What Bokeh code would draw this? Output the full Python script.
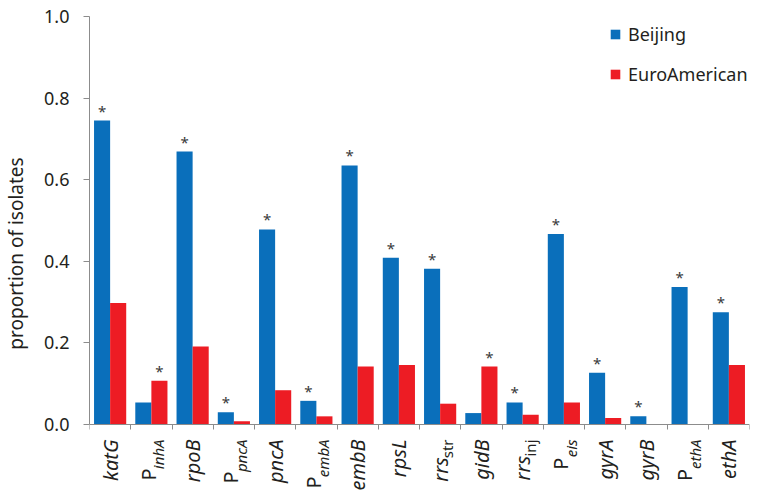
import numpy as np
from bokeh.plotting import figure
from bokeh.models import (Label, Legend, LegendItem, FixedTicker, Range1d,
                          ColumnDataSource, PrintfTickFormatter)
from bokeh.core.properties import value
from bokeh.embed import file_html
from bokeh.resources import INLINE

# ---- data ----
label_main = ["katG", "P", "rpoB", "P", "pncA", "P", "embB", "rpsL",
              "rrs", "gidB", "rrs", "P", "gyrA", "gyrB", "P", "ethA"]
label_sub = ["", "inhA", "", "pncA", "", "embA", "", "",
             "str", "", "inj", "eis", "", "", "ethA", ""]
beijing = [0.745, 0.054, 0.669, 0.030, 0.478, 0.058, 0.635, 0.409,
           0.382, 0.028, 0.054, 0.467, 0.127, 0.020, 0.337, 0.275]
euroamerican = [0.298, 0.107, 0.191, 0.008, 0.084, 0.020, 0.142, 0.146,
                0.051, 0.142, 0.024, 0.054, 0.016, 0.000, 0.000, 0.146]
significant_in = ["B", "E", "B", "B", "B", "B", "B", "B",
                  "B", "E", "B", "B", "B", "B", "B", "B"]
y_ticks = [0.0, 0.2, 0.4, 0.6, 0.8, 1.0]

BLUE = "#0a6fbb"
RED = "#ed1c24"
TXT = "#231f20"
AX = "#8c8c8c"
FONT = "Noto Sans"

n = len(label_main)
idx = np.arange(n)
bw = 0.39

H = 490
TOP = 16
PX = 408.0                      # pixels per unit of proportion
BELOW = H - TOP - PX            # pixels below the zero line for category labels
p = figure(width=750, height=H, x_range=Range1d(0, n),
           y_range=Range1d(-BELOW / PX, 1),
           output_backend="svg", toolbar_location=None,
           min_border_left=79, min_border_right=1, min_border_top=TOP,
           min_border_bottom=0)
p.outline_line_color = None
p.xgrid.visible = False
p.ygrid.visible = False

src_b = ColumnDataSource(dict(x=idx + 0.5 - bw / 2, top=beijing))
src_e = ColumnDataSource(dict(x=idx + 0.5 + bw / 2, top=euroamerican))
rb = p.vbar(x="x", top="top", width=bw, source=src_b, fill_color=BLUE, line_color=None)
re = p.vbar(x="x", top="top", width=bw, source=src_e, fill_color=RED, line_color=None)

# asterisks
sx, sy = [], []
for i, s in enumerate(significant_in):
    if s == "B":
        sx.append(i + 0.5 - bw / 2); sy.append(beijing[i])
    else:
        sx.append(i + 0.5 + bw / 2); sy.append(euroamerican[i])
p.text(x=sx, y=sy, text=["*"] * len(sx),
       text_align="center", text_baseline="bottom", text_color="#3a3a3a",
       text_font=value(FONT), text_font_size="15px")

# axes
yax = p.yaxis[0]
yax.bounds = (0, 1)
yax.ticker = FixedTicker(ticks=y_ticks)
yax.formatter = PrintfTickFormatter(format="%.1f")
yax.axis_line_color = AX
yax.major_tick_line_color = AX
yax.major_tick_out = 6
yax.major_tick_in = 0
yax.minor_tick_line_color = None
yax.major_label_text_font = FONT
yax.major_label_text_font_size = "18px"
yax.major_label_text_color = TXT
yax.major_label_standoff = 14
yax.axis_label = "proportion of isolates"
yax.axis_label_text_font = FONT
yax.axis_label_text_font_size = "19px"
yax.axis_label_text_font_style = "normal"
yax.axis_label_text_color = TXT
yax.axis_label_standoff = 12

xax = p.xaxis[0]
xax.fixed_location = 0
# category boundaries as (label-free) minor ticks
xax.ticker = FixedTicker(ticks=[], minor_ticks=list(range(n + 1)))
xax.axis_line_color = AX
xax.major_tick_line_color = None
xax.minor_tick_line_color = AX
xax.minor_tick_out = 5
xax.minor_tick_in = 0

# category labels (rotated, with subscripts)
it_w = {"i": 0.22, "n": 0.52, "h": 0.52, "A": 0.54, "c": 0.41, "a": 0.51,
        "e": 0.47, "m": 0.79, "b": 0.52, "s": 0.39, "t": 0.30, "r": 0.36,
        "p": 0.52, "j": 0.22}
MAIN_SIZE = 20
SUB_SIZE = 15
y_top = -15 / PX
for i in range(n):
    main, sub = label_main[i], label_sub[i]
    cx = i + 0.5
    main_style = "normal" if main == "P" else "italic"
    if sub:
        sub_style = "italic" if main == "P" else "normal"
        sub_w = sum(it_w.get(c, 0.47) for c in sub) * SUB_SIZE
        p.add_layout(Label(x=cx, y=y_top, x_offset=7, text=sub, angle=np.pi / 2,
                           text_align="right", text_baseline="middle",
                           text_font=FONT, text_font_size=f"{SUB_SIZE}px",
                           text_font_style=sub_style, text_color=TXT))
        p.add_layout(Label(x=cx, y=y_top - (sub_w + 2) / PX,
                           x_offset=-3 if main == "P" else 0, text=main,
                           angle=np.pi / 2, text_align="right", text_baseline="middle",
                           text_font=FONT, text_font_size=f"{MAIN_SIZE}px",
                           text_font_style=main_style, text_color=TXT))
    else:
        p.add_layout(Label(x=cx, y=y_top, text=main, angle=np.pi / 2,
                           text_align="right", text_baseline="middle",
                           text_font=FONT, text_font_size=f"{MAIN_SIZE}px",
                           text_font_style=main_style, text_color=TXT))

legend = Legend(items=[LegendItem(label="Beijing", renderers=[rb]),
                       LegendItem(label="EuroAmerican", renderers=[re])],
                location=(520, 402), border_line_color=None,
                background_fill_alpha=0, padding=0, margin=0, spacing=12,
                glyph_width=12, glyph_height=12, label_height=28,
                label_standoff=7, label_text_font=FONT,
                label_text_font_size="18px", label_text_color=TXT)
p.add_layout(legend)

open("out.html", "w").write(file_html(p, INLINE))
